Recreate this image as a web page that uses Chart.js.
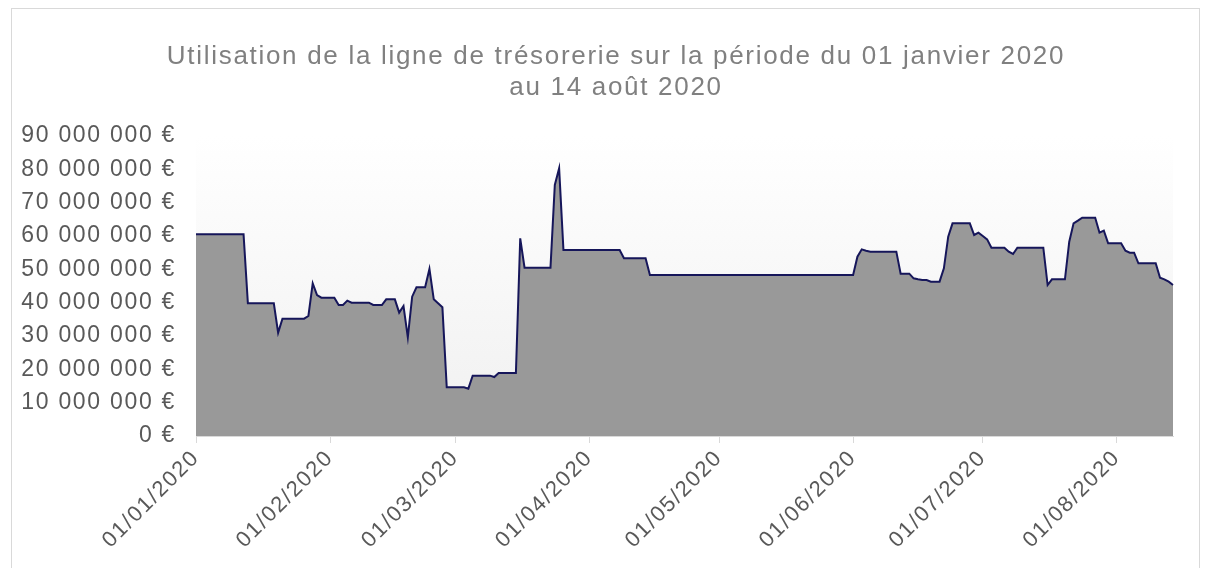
<!DOCTYPE html>
<html>
<head>
<meta charset="utf-8">
<script src="https://cdn.jsdelivr.net/npm/chart.js"></script>
<style>
  html, body { margin: 0; padding: 0; background: #ffffff; }
  #wrap { position: relative; width: 1209px; height: 568px; }
</style>
</head>
<body>
<div id="wrap"><canvas id="tresoChart"></canvas></div>
<script>
    // encours journalier de la ligne de trésorerie, en millions d'euros (01/01/2020 -> 14/08/2020)
    const values = [
        60.5, 60.5, 60.5, 60.5, 60.5, 60.5, 60.5, 60.5, 60.5, 60.5,
        60.5, 60.5, 39.8, 39.8, 39.8, 39.8, 39.8, 39.8, 39.8, 31,
        35.2, 35.2, 35.2, 35.2, 35.2, 35.2, 36, 45.8, 42.3, 41.5,
        41.5, 41.5, 41.5, 39.3, 39.3, 40.6, 40, 40, 40, 40,
        40, 39.3, 39.3, 39.3, 41, 41, 41, 37, 39, 29.6,
        41.8, 44.6, 44.6, 44.6, 50.1, 41, 39.8, 38.6, 14.6, 14.6,
        14.6, 14.6, 14.6, 14.2, 18.1, 18.1, 18.1, 18.1, 18.1, 17.7,
        18.9, 18.9, 18.9, 18.9, 18.9, 59.3, 50.5, 50.5, 50.5, 50.5,
        50.5, 50.5, 50.5, 75.3, 80.3, 55.8, 55.8, 55.8, 55.8, 55.8,
        55.8, 55.8, 55.8, 55.8, 55.8, 55.8, 55.8, 55.8, 55.8, 53.3,
        53.3, 53.3, 53.3, 53.3, 53.3, 48.3, 48.3, 48.3, 48.3, 48.3,
        48.3, 48.3, 48.3, 48.3, 48.3, 48.3, 48.3, 48.3, 48.3, 48.3,
        48.3, 48.3, 48.3, 48.3, 48.3, 48.3, 48.3, 48.3, 48.3, 48.3,
        48.3, 48.3, 48.3, 48.3, 48.3, 48.3, 48.3, 48.3, 48.3, 48.3,
        48.3, 48.3, 48.3, 48.3, 48.3, 48.3, 48.3, 48.3, 48.3, 48.3,
        48.3, 48.3, 48.3, 53.8, 56, 55.6, 55.3, 55.3, 55.3, 55.3,
        55.3, 55.3, 55.3, 48.7, 48.7, 48.7, 47.3, 47, 46.8, 46.8,
        46.3, 46.3, 46.3, 50.3, 59.8, 63.8, 63.8, 63.8, 63.8, 63.8,
        60.3, 61, 60, 59, 56.5, 56.5, 56.5, 56.5, 55.3, 54.6,
        56.5, 56.5, 56.5, 56.5, 56.5, 56.5, 56.5, 45.3, 47, 47,
        47, 47, 58.3, 63.8, 64.6, 65.5, 65.5, 65.5, 65.5, 61,
        61.6, 57.8, 57.8, 57.8, 57.8, 55.6, 55, 55, 51.8, 51.8,
        51.8, 51.8, 51.8, 47.5, 47, 46.3, 45.3
    ];
    const yTicks = [0, 10, 20, 30, 40, 50, 60, 70, 80, 90];
    const titleLines = [
        'Utilisation de la ligne de trésorerie sur la période du 01 janvier 2020',
        'au 14 août 2020'
    ];

    // une étiquette par jour, à partir du 01/01/2020
    const labels = values.map((v, i) => {
        const d = new Date(2020, 0, 1 + i);
        return String(d.getDate()).padStart(2, '0') + '/' + String(d.getMonth() + 1).padStart(2, '0') + '/' + d.getFullYear();
    });
    const isMonthStart = i => labels[i] && labels[i].startsWith('01/');

    const euro = v => String(Math.round(v * 1000000)).replace(/\B(?=(\d{3})+(?!\d))/g, ' ') + ' €';

    // texte un peu plus large, comme dans l'export Excel
    const spacing = {
        id: 'spacing',
        beforeLayout(chart) { chart.ctx.letterSpacing = '1.7px'; },
        beforeDraw(chart) { chart.ctx.letterSpacing = '1.7px'; }
    };

    const frameAndBackground = {
        id: 'frameAndBackground',
        beforeDraw(chart) {
            const { ctx, chartArea } = chart;
            ctx.save();
            ctx.strokeStyle = '#d9d9d9';
            ctx.lineWidth = 1;
            ctx.strokeRect(11.5, 8.5, 1188, 600);
            const g = ctx.createLinearGradient(0, chartArea.top, 0, chartArea.bottom);
            g.addColorStop(0, '#ffffff');
            g.addColorStop(1, '#f0f0f0');
            ctx.fillStyle = g;
            ctx.fillRect(chartArea.left, chartArea.top, chartArea.right - chartArea.left, chartArea.bottom - chartArea.top);
            ctx.restore();
        }
    };

    // titre centré sur le cadre, pas sur la zone de tracé
    const frameTitle = {
        id: 'frameTitle',
        afterDraw(chart) {
            const ctx = chart.ctx;
            ctx.save();
            ctx.letterSpacing = '1.7px';
            ctx.font = '26px "Liberation Sans", Arial, sans-serif';
            ctx.fillStyle = '#808080';
            ctx.textAlign = 'center';
            ctx.textBaseline = 'middle';
            titleLines.forEach((line, i) => ctx.fillText(line, 616, 57 + i * 31));
            ctx.restore();
        }
    };

    const ctx = document.getElementById('tresoChart').getContext('2d');
    const tresoChart = new Chart(ctx, {
        type: 'line',
        data: {
            labels: labels,
            datasets: [{
                label: 'Ligne de trésorerie',
                data: values,
                borderColor: '#16165a',
                borderWidth: 2,
                backgroundColor: '#999999',
                fill: 'origin',
                pointRadius: 0,
                tension: 0
            }]
        },
        options: {
            responsive: true,
            maintainAspectRatio: false,
            animation: false,
            layout: { padding: { left: 0, right: 36, top: 136, bottom: 0 } },
            plugins: {
                legend: { display: false },
                tooltip: { enabled: false },
                title: { display: false }
            },
            scales: {
                x: {
                    grid: {
                        drawOnChartArea: false,
                        tickLength: 7,
                        color: c => isMonthStart(c.index) ? '#d9d9d9' : 'rgba(0,0,0,0)'
                    },
                    border: { color: '#d9d9d9' },
                    ticks: {
                        autoSkip: false,
                        maxRotation: 45,
                        minRotation: 45,
                        padding: 2,
                        color: '#595959',
                        font: { family: '"Liberation Sans", Arial, sans-serif', size: 22 },
                        callback: (v, i) => isMonthStart(i) ? labels[i] : ''
                    },
                    afterFit: s => { s.height = 132; }
                },
                y: {
                    min: 0,
                    max: 90,
                    grid: { display: false, drawTicks: false },
                    border: { display: false },
                    afterBuildTicks: s => { s.ticks = yTicks.map(v => ({ value: v })); },
                    ticks: {
                        padding: 20,
                        color: '#595959',
                        font: { family: '"Liberation Sans", Arial, sans-serif', size: 23 },
                        callback: v => euro(v)
                    },
                    afterFit: s => { s.width = 196; }
                }
            }
        },
        plugins: [spacing, frameAndBackground, frameTitle]
    });
</script>
</body>
</html>
